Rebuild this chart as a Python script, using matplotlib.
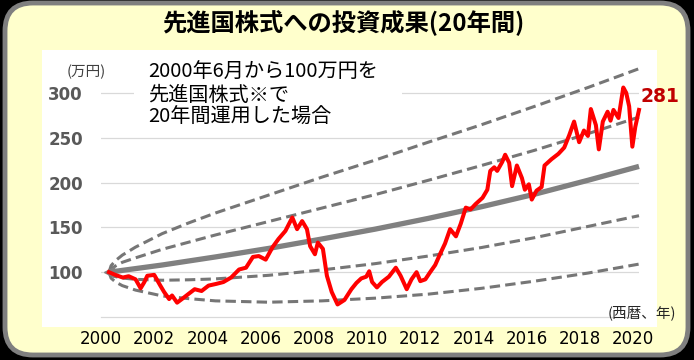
import matplotlib
matplotlib.use("Agg")
import matplotlib.pyplot as plt
from matplotlib.patches import FancyBboxPatch, Rectangle
import numpy as np

# ---------------- data ----------------
title = "先進国株式への投資成果(20年間)"
note = "2000年6月から100万円を\n先進国株式※で\n20年間運用した場合"
final_label = "281"

xtick_years = [2000, 2002, 2004, 2006, 2008, 2010, 2012, 2014, 2016, 2018, 2020]
ytick_values = [100, 150, 200, 250, 300]

# red line: portfolio value (万円)
red_x = [2000.42, 2000.68, 2000.94, 2001.16, 2001.42, 2001.61, 2001.75, 2001.86, 2002.12, 2002.35,
         2002.49, 2002.68, 2002.79, 2002.98, 2003.16, 2003.42, 2003.64, 2003.90, 2004.16, 2004.46,
         2004.72, 2005.01, 2005.31, 2005.57, 2005.83, 2006.05, 2006.31, 2006.57, 2006.79, 2007.05,
         2007.31, 2007.49, 2007.68, 2007.86, 2007.98, 2008.16, 2008.27, 2008.46, 2008.61, 2008.79,
         2009.01, 2009.27, 2009.53, 2009.72, 2009.90, 2010.09, 2010.20, 2010.31, 2010.49, 2010.68,
         2010.94, 2011.20, 2011.38, 2011.61, 2011.79, 2011.98, 2012.12, 2012.31, 2012.49, 2012.68,
         2012.86, 2013.05, 2013.24, 2013.35, 2013.46, 2013.64, 2013.83, 2014.01, 2014.20, 2014.46,
         2014.64, 2014.75, 2014.90, 2015.01, 2015.20, 2015.31, 2015.46, 2015.57, 2015.75, 2015.94,
         2016.05, 2016.20, 2016.31, 2016.49, 2016.68, 2016.79, 2017.05, 2017.31, 2017.53, 2017.72,
         2017.90, 2018.09, 2018.27, 2018.42, 2018.53, 2018.72, 2018.83, 2018.98, 2019.16, 2019.27,
         2019.38, 2019.57, 2019.75, 2019.86, 2019.97, 2020.09, 2020.20, 2020.34]
red_v = [100, 96.7, 94, 95.5, 92, 82, 89, 96, 97, 85,
         78, 70, 74, 66, 70, 76, 81, 79, 85, 87,
         89, 94, 103, 105, 117, 118, 114, 128, 137, 146,
         161, 148, 157, 148, 129, 120, 133, 126, 96, 78,
         64, 69, 81, 88, 93, 95, 101, 89, 83, 89,
         95, 105, 96, 81, 92, 100, 90, 92, 100, 108,
         120, 132, 148, 144, 140, 154, 172, 170, 176, 183,
         192, 213, 217, 213, 223, 231, 222, 196, 219, 205,
         192, 198, 181, 191, 195, 219, 226, 232, 239, 253,
         268, 245, 258, 252, 282, 264, 237, 268, 279, 269,
         281, 272, 306, 300, 285, 240, 262, 281]

# expected path and +-1 / +-2 sigma bands
band_x = [2000.42, 2000.50, 2000.67, 2000.92, 2001.42, 2002.42, 2003.42, 2004.42,
          2006.42, 2008.42, 2010.42, 2012.42, 2014.42, 2016.42, 2018.42, 2020.34]
center_v = [100, 100.3, 101, 102, 104, 108, 112.5, 117, 126.5, 137, 148, 160, 173, 187, 202.5, 218]
upper1_v = [100, 103.8, 107, 111, 116, 125.5, 133.5, 141.5, 156.5, 171.5, 186.5, 202.5, 219, 236, 254.5, 273]
upper2_v = [100, 107.3, 113, 119, 128, 143, 155, 166, 186, 206, 225, 245, 264.5, 285, 306, 327]
lower1_v = [100, 96.7, 95, 93.5, 92, 91, 91.5, 92.5, 96.5, 102.5, 109.5, 118, 127.5, 138.5, 151, 163]
lower2_v = [100, 93.3, 89, 85, 80, 73.5, 70.5, 68, 66.5, 68, 71, 75.5, 82, 90, 99, 109]

# ---------------- figure ----------------
W, H = 694, 360
fig = plt.figure(figsize=(W / 100, H / 100), dpi=100, facecolor="black")

cjk = ["Noto Sans CJK JP", "DejaVu Sans"]

# background (pixel coordinates)
bg = fig.add_axes([0, 0, 1, 1], zorder=0)
bg.set_xlim(0, W)
bg.set_ylim(H, 0)
bg.axis("off")
bg.add_patch(FancyBboxPatch((5, 3), 683, 352, boxstyle="round,pad=0,rounding_size=28",
                            fc="#FFFFCC", ec="#7F7F7F", lw=3.5))
bg.add_patch(Rectangle((42, 50), 615, 277, fc="white", ec="none"))

# main axes
ax = fig.add_axes([101 / W, 1 - 317 / H, 538 / W, 251 / H], zorder=1)
ax.patch.set_alpha(0)
ax.set_xlim(2000.42, 2020.34)
ax.set_ylim(50, 330)
for s in ["top", "right", "left"]:
    ax.spines[s].set_visible(False)
ax.spines["bottom"].set_color("#D9D9D9")
ax.spines["bottom"].set_linewidth(0.9)
ax.set_yticks(ytick_values)
ax.set_yticklabels([str(v) for v in ytick_values], fontsize=12, fontweight="bold",
                   color="#595959", family="DejaVu Sans")
ax.set_xticks(np.array(xtick_years) + 0.12)
ax.set_xticklabels([str(y) for y in xtick_years], fontsize=12, color="black",
                   family="DejaVu Sans")
ax.tick_params(axis="y", length=0, pad=13)
ax.tick_params(axis="x", length=0, pad=9)
ax.grid(axis="y", color="#D9D9D9", lw=0.9)
ax.set_axisbelow(True)

dash_kw = dict(color="#767676", lw=2.2, dashes=(3.4, 1.7), solid_capstyle="butt")
for vals in (upper2_v, upper1_v, lower1_v, lower2_v):
    ax.plot(band_x, vals, clip_on=False, zorder=3, **dash_kw)
ax.plot(band_x, center_v, color="#808080", lw=3.8, clip_on=False, zorder=4,
        solid_capstyle="butt")
ax.plot(red_x, red_v, color="#FF0000", lw=2.9, clip_on=False, zorder=5,
        solid_joinstyle="round")
ax.plot([band_x[0]], [center_v[0]], marker="<", ms=7, color="#808080", zorder=4, clip_on=False)

# overlay for texts
ov = fig.add_axes([0, 0, 1, 1], zorder=2)
ov.set_xlim(0, W)
ov.set_ylim(H, 0)
ov.axis("off")
ov.patch.set_alpha(0)
ov.add_patch(Rectangle((134, 58), 268, 76, fc="white", ec="none"))
ov.text(343, 22, title, ha="center", va="center", fontsize=17.5, fontweight="bold",
        family=cjk, color="black")
ov.text(148, 62, note, ha="left", va="top", fontsize=14.5, family=cjk, color="black",
        linespacing=1.1)
ov.text(86, 72, "(万円)", ha="center", va="center", fontsize=10.5, family=cjk, color="#404040")
ov.text(642, 313, "(西暦、年)", ha="center", va="center", fontsize=10.5, family=cjk,
        color="#262626")
ov.text(660, 97, final_label, ha="center", va="center", fontsize=13.5, fontweight="bold",
        family="DejaVu Sans", color="#C00000")

fig.savefig("out.png", dpi=100, facecolor="black")
